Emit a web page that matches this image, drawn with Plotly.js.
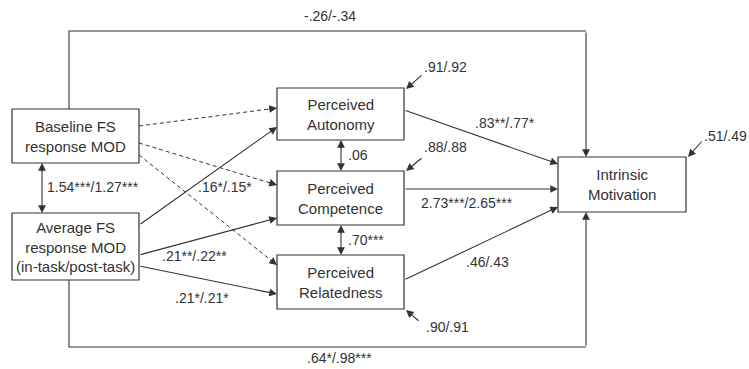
<!DOCTYPE html>
<html><head><meta charset="utf-8">
<script src="https://cdn.plot.ly/plotly-3.0.1.min.js"></script>
<style>html,body{margin:0;padding:0;background:#fff}#c{width:749px;height:369px}</style>
</head><body><div id="c"></div>
<script>
// ---- content (text / values) ----
const nodeIds = ['base', 'avg', 'aut', 'comp', 'rel', 'im'];
const nodeLabels = ['Baseline FS<br>response MOD', 'Average FS<br>response MOD<br>(in-task/post-task)',
  'Perceived<br>Autonomy', 'Perceived<br>Competence', 'Perceived<br>Relatedness', 'Intrinsic<br>Motivation'];
const pathIds = ['base_im', 'avg_im', 'base_avg', 'avg_aut', 'avg_comp', 'avg_rel', 'aut_im', 'comp_im', 'rel_im', 'aut_comp', 'comp_rel', 'base_aut', 'base_comp', 'base_rel'];
const pathLabels = ['-.26/-.34', '.64*/.98***', '1.54***/1.27***', '.16*/.15*', '.21**/.22**', '.21*/.21*',
  '.83**/.77*', '2.73***/2.65***', '.46/.43', '.06', '.70***', '', '', ''];
const residualIds = ['aut', 'comp', 'rel', 'im'];
const residualLabels = ['.91/.92', '.88/.88', '.90/.91', '.51/.49'];

// ---- geometry / styles (layout of the diagram, pixel space) ----
const BOX = { base: [12, 139, 109, 163], avg: [12, 139, 213, 280], aut: [277, 404, 88, 140],
  comp: [277, 404, 171, 225], rel: [277, 404, 255, 309], im: [558, 686, 157, 212] };
const PATHGEO = {
  base_im:  { pts: [[69, 109], [69, 31], [586, 31], [586, 157]], lab: [330, 16] },
  avg_im:   { pts: [[69, 280], [69, 347], [586, 347], [586, 212]], lab: [339, 358] },
  base_avg: { pts: [[42, 163], [42, 213]], both: true, lab: [93, 187] },
  avg_aut:  { pts: [[139, 225], [277, 127]], lab: [225, 187] },
  avg_comp: { pts: [[139, 255], [277, 218]], lab: [194, 256] },
  avg_rel:  { pts: [[139, 266], [277, 294]], lab: [202, 298] },
  aut_im:   { pts: [[404, 110], [558, 164]], lab: [505, 123] },
  comp_im:  { pts: [[404, 189], [558, 189]], lab: [467, 203] },
  rel_im:   { pts: [[404, 280], [558, 207]], lab: [487, 262] },
  aut_comp: { pts: [[341, 140], [341, 171]], both: true, lab: [346, 155], left: true },
  comp_rel: { pts: [[341, 225], [341, 255]], both: true, lab: [346, 240], left: true },
  base_aut: { pts: [[139, 126], [277, 108]], dash: true },
  base_comp:{ pts: [[139, 143], [277, 185]], dash: true },
  base_rel: { pts: [[139, 155], [277, 265]], dash: true }
};
const RESGEO = { aut: { from: [423, 74], to: [406, 89], lab: [445, 67] },
  comp: { from: [423, 157], to: [406, 171], lab: [445, 147] },
  rel: { from: [420, 322], to: [406, 310], lab: [447, 327] },
  im: { from: [703, 140], to: [688, 157], lab: [725, 136] } };

const INK = '#333333';
const FONT = 'Liberation Sans, Arial, sans-serif';
const shapes = [], ann = [];

function arrow(tail, head) {
  ann.push({ x: head[0], y: head[1], ax: tail[0], ay: tail[1], xref: 'x', yref: 'y', axref: 'x', ayref: 'y',
    text: '', showarrow: true, arrowhead: 2, arrowsize: 1.4, arrowwidth: 1.1, arrowcolor: INK, standoff: 0, startstandoff: 0 });
}
function arrowTip(tail, head) {
  const dx = head[0] - tail[0], dy = head[1] - tail[1], L = Math.hypot(dx, dy);
  arrow([head[0] - dx / L * 10, head[1] - dy / L * 10], head);
}

nodeIds.forEach((id, i) => {
  const b = BOX[id];
  shapes.push({ type: 'rect', xref: 'x', yref: 'y', x0: b[0], x1: b[1], y0: b[2], y1: b[3],
    line: { color: INK, width: 1.2 }, fillcolor: 'rgba(0,0,0,0)' });
  ann.push({ x: (b[0] + b[1]) / 2, y: (b[2] + b[3]) / 2, xref: 'x', yref: 'y', text: nodeLabels[i], showarrow: false,
    font: { family: FONT, size: 15, color: INK }, xanchor: 'center', yanchor: 'middle' });
});

pathIds.forEach((id, i) => {
  const g = PATHGEO[id], p = g.pts;
  if (g.dash) {
    shapes.push({ type: 'line', xref: 'x', yref: 'y', x0: p[0][0], y0: p[0][1], x1: p[1][0], y1: p[1][1],
      line: { color: INK, width: 1, dash: '4px,3px' } });
    arrowTip(p[0], p[1]);
  } else {
    if (p.length > 2) {
      let d = 'M' + p[0][0] + ',' + p[0][1];
      for (let k = 1; k < p.length - 1; k++) d += ' L' + p[k][0] + ',' + p[k][1];
      shapes.push({ type: 'path', xref: 'x', yref: 'y', path: d, line: { color: INK, width: 1.1 } });
    }
    const n = p.length;
    arrow(p[n - 2], p[n - 1]);
    if (g.both) arrowTip(p[1], p[0]);
  }
  if (pathLabels[i]) {
    ann.push({ x: g.lab[0], y: g.lab[1], xref: 'x', yref: 'y', text: pathLabels[i], showarrow: false,
      font: { family: FONT, size: 14, color: INK }, xanchor: g.left ? 'left' : 'center', yanchor: 'middle' });
  }
});

residualIds.forEach((id, i) => {
  const g = RESGEO[id];
  arrow(g.from, g.to);
  ann.push({ x: g.lab[0], y: g.lab[1], xref: 'x', yref: 'y', text: residualLabels[i], showarrow: false,
    font: { family: FONT, size: 14, color: INK }, xanchor: 'center', yanchor: 'middle' });
});

const layout = {
  width: 749, height: 369, margin: { l: 0, r: 0, t: 0, b: 0 },
  paper_bgcolor: '#ffffff', plot_bgcolor: '#ffffff', showlegend: false,
  xaxis: { range: [0, 749], visible: false, fixedrange: true },
  yaxis: { range: [369, 0], visible: false, fixedrange: true },
  shapes: shapes, annotations: ann
};
Plotly.newPlot('c', [{ x: [], y: [], type: 'scatter' }], layout, { staticPlot: true, displayModeBar: false });
</script></body></html>
